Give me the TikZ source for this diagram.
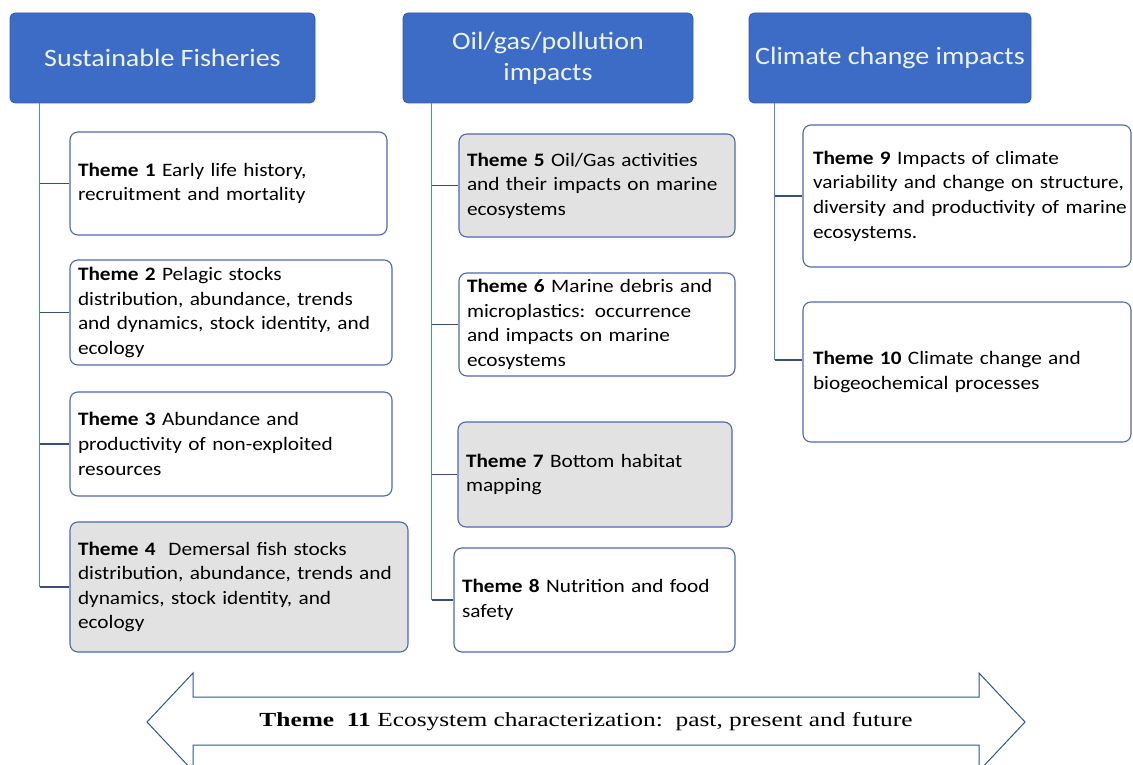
\documentclass[tikz,border=0pt]{standalone}
\usepackage{fontspec}
\setmainfont{Carlito}[FakeStretch=1.12]
\newfontfamily\timesfont{Liberation Serif}
\usetikzlibrary{calc}
\definecolor{hdrblue}{HTML}{3D6CC7}
\definecolor{hdrtext}{HTML}{EEF4FC}
\definecolor{boxline}{HTML}{4F68B2}
\definecolor{boxgray}{HTML}{E2E2E2}
\definecolor{trunkblue}{HTML}{4A86DA}
\definecolor{branchdark}{HTML}{3A4E76}
\definecolor{arrowline}{HTML}{2F5597}
\begin{document}
\begin{tikzpicture}[x=1pt,y=-1pt,
  hdr/.style={draw=hdrblue!85!black, line width=0.8pt, fill=hdrblue, rounded corners=5pt,
    text=hdrtext, align=center, font=\fontsize{25}{31}\selectfont, inner sep=0pt},
  theme/.style={draw=boxline, line width=1.1pt, fill=white, rounded corners=8pt,
    align=left, font=\fontsize{19}{24.6}\selectfont, inner xsep=8pt, inner ysep=0pt},
  graytheme/.style={theme, fill=boxgray},
  trunk/.style={draw=trunkblue, line width=1.5pt},
  branch/.style={draw=branchdark, line width=1.4pt},
  arrowshape/.style={draw=arrowline, line width=1pt, fill=white, line join=miter}
]
\useasboundingbox[fill=white] (0,0) rectangle (1133,765);

% headers
\node[hdr, minimum width=305pt, minimum height=90pt] (h1) at (162.5,58) {Sustainable Fisheries};
\node[hdr, minimum width=290pt, minimum height=90pt] (h2) at (548,58) {Oil/gas/pollution\\impacts};
\node[hdr, minimum width=282pt, minimum height=90pt] (h3) at (890,58) {Climate change impacts};

% column 1
\node[theme, minimum width=317pt, minimum height=103pt, text width=301pt] (t1) at (228.5,183.5)
  {\textbf{Theme 1} Early life history,\\recruitment and mortality};
\node[theme, minimum width=322pt, minimum height=105pt, text width=306pt] (t2) at (231,312.5)
  {\textbf{Theme 2} Pelagic stocks\\distribution, abundance, trends\\and dynamics, stock identity, and\\ecology};
\node[theme, minimum width=322pt, minimum height=104pt, text width=306pt] (t3) at (231,444)
  {\textbf{Theme 3} Abundance and\\productivity of non-exploited\\resources};
\node[graytheme, minimum width=338pt, minimum height=130pt, text width=322pt] (t4) at (239,587)
  {\textbf{Theme 4}\ \ Demersal fish stocks\\distribution, abundance, trends and\\dynamics, stock identity, and\\ecology};

% column 2
\node[graytheme, minimum width=276pt, minimum height=103pt, text width=260pt] (t5) at (597,185.5)
  {\textbf{Theme 5} Oil/Gas activities\\and their impacts on marine\\ecosystems};
\node[theme, minimum width=276pt, minimum height=103pt, text width=260pt] (t6) at (597,324.5)
  {\textbf{Theme 6} Marine debris and\\microplastics: occurrence\\and impacts on marine\\ecosystems};
\node[graytheme, minimum width=274pt, minimum height=105pt, text width=258pt] (t7) at (595,474.5)
  {\textbf{Theme 7} Bottom habitat\\mapping};
\node[theme, minimum width=281pt, minimum height=104pt, text width=265pt] (t8) at (594.5,600)
  {\textbf{Theme 8} Nutrition and food\\safety};

% column 3
\node[theme, minimum width=328pt, minimum height=142pt, text width=308pt, inner xsep=10pt] (t9) at (967,196)
  {\textbf{Theme 9} Impacts of climate\\\mbox{variability and change on structure,}\\\mbox{diversity and productivity of marine}\\ecosystems.};
\node[theme, minimum width=328pt, minimum height=140pt, text width=308pt, inner xsep=10pt] (t10) at (967,372)
  {\textbf{Theme 10} Climate change and\\biogeochemical processes};

% connectors
\coordinate (c1) at ([xshift=30pt]h1.south west);
\coordinate (c2) at ([xshift=29pt]h2.south west);
\coordinate (c3) at ([xshift=26pt]h3.south west);
\coordinate (t10b) at ([yshift=12pt]t10.west);

\draw[trunk] (c1) -- (c1 |- t4.west);
\foreach \t in {t1,t2,t3,t4} \draw[branch] (c1 |- \t.west) -- (\t.west);
\draw[trunk] (c2) -- (c2 |- t8.west);
\foreach \t in {t5,t6,t7,t8} \draw[branch] (c2 |- \t.west) -- (\t.west);
\draw[trunk] (c3) -- (c3 |- t10b);
\draw[branch] (c3 |- t9.west) -- (t9.west);
\draw[branch] (c3 |- t10b) -- (t10b);

% bottom double arrow
\draw[arrowshape] (147,722) -- (193,673) -- (193,697) -- (979,697) -- (979,673) -- (1025,722)
  -- (979,771) -- (979,745) -- (193,745) -- (193,771) -- cycle;
\node[font=\timesfont\fontsize{20}{24}\selectfont, inner sep=0pt] (t11) at (586,722)
  {\scalebox{1.27}[1]{\textbf{Theme\ \ 11} Ecosystem characterization:\ \ past, present and future}};
\end{tikzpicture}
\end{document}
